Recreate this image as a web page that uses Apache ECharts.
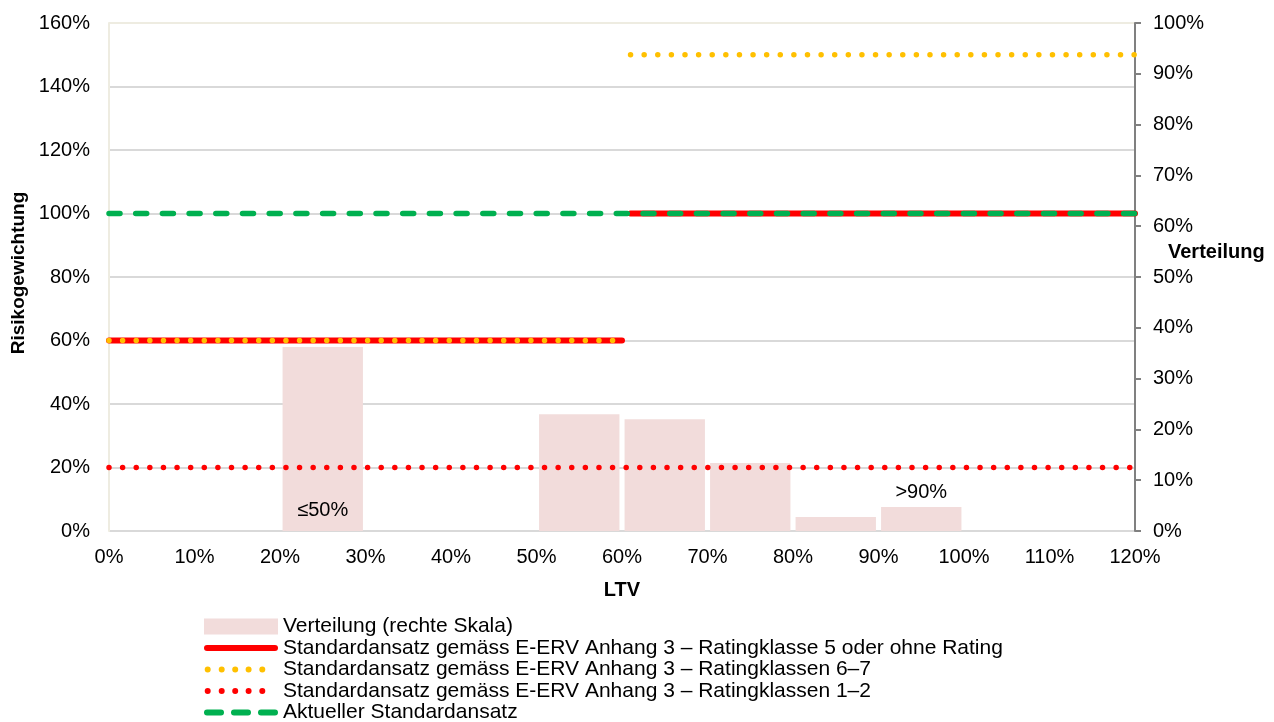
<!DOCTYPE html>
<html>
<head>
<meta charset="utf-8">
<script src="https://cdn.jsdelivr.net/npm/echarts@6/dist/echarts.min.js"></script>
<style>html,body{margin:0;padding:0;background:#fff}#c{width:1274px;height:722px}</style>
</head>
<body>
<div id="c"></div>
<script>
// Data
const binLabels = ['0–10%','10–20%','20–30%','30–40%','40–50%','50–60%','60–70%','70–80%','80–90%','90–100%','100–110%','110–120%'];
const distribution = [null, null, 36.2, null, null, 23.0, 22.0, 13.4, 2.75, 4.7, null, null]; // right scale, %
const barTexts = ['', '', '≤50%', '', '', '', '', '', '', '>90%', '', ''];
const rk5SegA = [[0, 60], [60, 60]];
const rk5SegB = [[61, 100], [120, 100]];
const rk67SegA = [[0, 60], [60, 60]];
const rk67SegB = [[61, 150], [120, 150]];
const rk12 = [[0, 20], [120, 20]];
const current = [[0, 100], [120, 100]];
const names = [
  'Verteilung (rechte Skala)',
  'Standardansatz gemäss E-ERV Anhang 3 – Ratingklasse 5 oder ohne Rating',
  'Standardansatz gemäss E-ERV Anhang 3 – Ratingklassen 6–7',
  'Standardansatz gemäss E-ERV Anhang 3 – Ratingklassen 1–2',
  'Aktueller Standardansatz'
];

const FONT = "'Liberation Sans', Arial, sans-serif";
const joinSegs = (a, b) => a.concat([[b[0][0], '-']], b);

// legend icon shapes (styling only)
const pill = x => `M${x + 3},0h14a3,3 0 0 1 0,6h-14a3,3 0 0 1 0,-6z`;
const dot = cx => `M${cx - 3},3a3,3 0 1 0 6,0a3,3 0 1 0 -6,0z`;
const ICON_LINE = 'path://M3,0h68a3,3 0 0 1 0,6h-68a3,3 0 0 1 0,-6z';
const ICON_DOTS = 'path://M0,3L0,3 ' + [3.7, 17.7, 31.2, 44.6, 58.3].map(dot).join(' ') + ' M74,3L74,3';
const ICON_DASH = 'path://' + [0, 27, 54].map(pill).join(' ');

const chart = echarts.init(document.getElementById('c'), null, {renderer: 'canvas'});
chart.setOption({
  animation: false,
  textStyle: {fontFamily: FONT},
  title: {text: 'Verteilung', left: 1168, top: 242, padding: 0,
    textStyle: {fontFamily: FONT, fontWeight: 'bold', fontSize: 20, lineHeight: 20, color: '#000'}},
  grid: {left: 109, right: 139, top: 23, bottom: 191, outerBoundsMode: 'none', containLabel: false},
  xAxis: [
    {type: 'value', min: 0, max: 120, interval: 10,
     name: 'LTV', nameLocation: 'middle', nameGap: 49,
     nameTextStyle: {fontFamily: FONT, fontWeight: 'bold', fontSize: 20, color: '#000'},
     axisLine: {show: false}, axisTick: {show: false}, splitLine: {show: false},
     axisLabel: {formatter: '{value}%', fontFamily: FONT, fontSize: 20, color: '#000', margin: 16}},
    {type: 'category', data: binLabels, show: false, boundaryGap: true}
  ],
  yAxis: [
    {type: 'value', min: 0, max: 160, interval: 20, position: 'left',
     name: 'Risikogewichtung', nameLocation: 'middle', nameGap: 78,
     nameTextStyle: {fontFamily: FONT, fontWeight: 'bold', fontSize: 19, color: '#000', padding: [0, 0, 0, 8]},
     axisLine: {show: true, lineStyle: {color: '#eeece1', width: 2}}, axisTick: {show: false},
     splitLine: {show: true, lineStyle: {color: ['#d9d9d9','#d9d9d9','#d9d9d9','#d9d9d9','#d9d9d9','#d9d9d9','#d9d9d9','#d9d9d9','#eeece1'], width: 2}},
     axisLabel: {formatter: '{value}%', fontFamily: FONT, fontSize: 20, color: '#000', margin: 19}},
    {type: 'value', min: 0, max: 100, interval: 10, position: 'right',
     axisLine: {show: true, lineStyle: {color: '#808080', width: 2}},
     axisTick: {show: true, inside: false, length: 6, lineStyle: {color: '#808080', width: 2}},
     splitLine: {show: false},
     axisLabel: {formatter: '{value}%', fontFamily: FONT, fontSize: 20, color: '#000', margin: 18}}
  ],
  legend: {
    orient: 'vertical', left: 204, top: 616, height: 140, padding: 0, itemWidth: 74, itemHeight: 16, itemGap: 0.5,
    textStyle: {fontFamily: FONT, fontSize: 21, lineHeight: 21, color: '#000'},
    data: [
      {name: names[0], icon: 'rect'},
      {name: names[1], icon: ICON_LINE},
      {name: names[2], icon: ICON_DOTS},
      {name: names[3], icon: ICON_DOTS},
      {name: names[4], icon: ICON_DASH}
    ]
  },
  series: [
    {name: names[0], type: 'bar', xAxisIndex: 1, yAxisIndex: 1,
     data: distribution.map((v, i) => i === 9 ? {value: v, label: {position: 'top', distance: 5}} : v),
     barCategoryGap: '6%', itemStyle: {color: '#f2dcdb'},
     label: {show: true, fontFamily: FONT, fontSize: 20, color: '#000',
       formatter: p => barTexts[p.dataIndex],
       position: 'insideBottom', distance: 11},
     z: 1},
    {name: names[1], type: 'line', data: joinSegs(rk5SegA, rk5SegB), symbol: 'none', connectNulls: false,
     lineStyle: {color: '#ff0000', width: 6, cap: 'round'}, itemStyle: {color: '#ff0000', borderWidth: 0}, z: 3},
    {name: names[2], type: 'line', data: joinSegs(rk67SegA, rk67SegB), symbol: 'none', connectNulls: false,
     lineStyle: {color: '#ffc000', width: 5.5, type: [0.01, 13.6], cap: 'round'}, itemStyle: {color: '#ffc000', borderWidth: 0}, z: 4},
    {name: names[3], type: 'line', data: rk12, symbol: 'none',
     lineStyle: {color: '#ff0000', width: 5.5, type: [0.01, 13.6], cap: 'round'}, itemStyle: {color: '#ff0000', borderWidth: 0}, z: 4},
    {name: names[4], type: 'line', data: current, symbol: 'none',
     lineStyle: {color: '#00b050', width: 5.5, type: [11, 15.7], cap: 'round'}, itemStyle: {color: '#00b050', borderWidth: 0}, z: 5}
  ]
});
</script>
</body>
</html>
